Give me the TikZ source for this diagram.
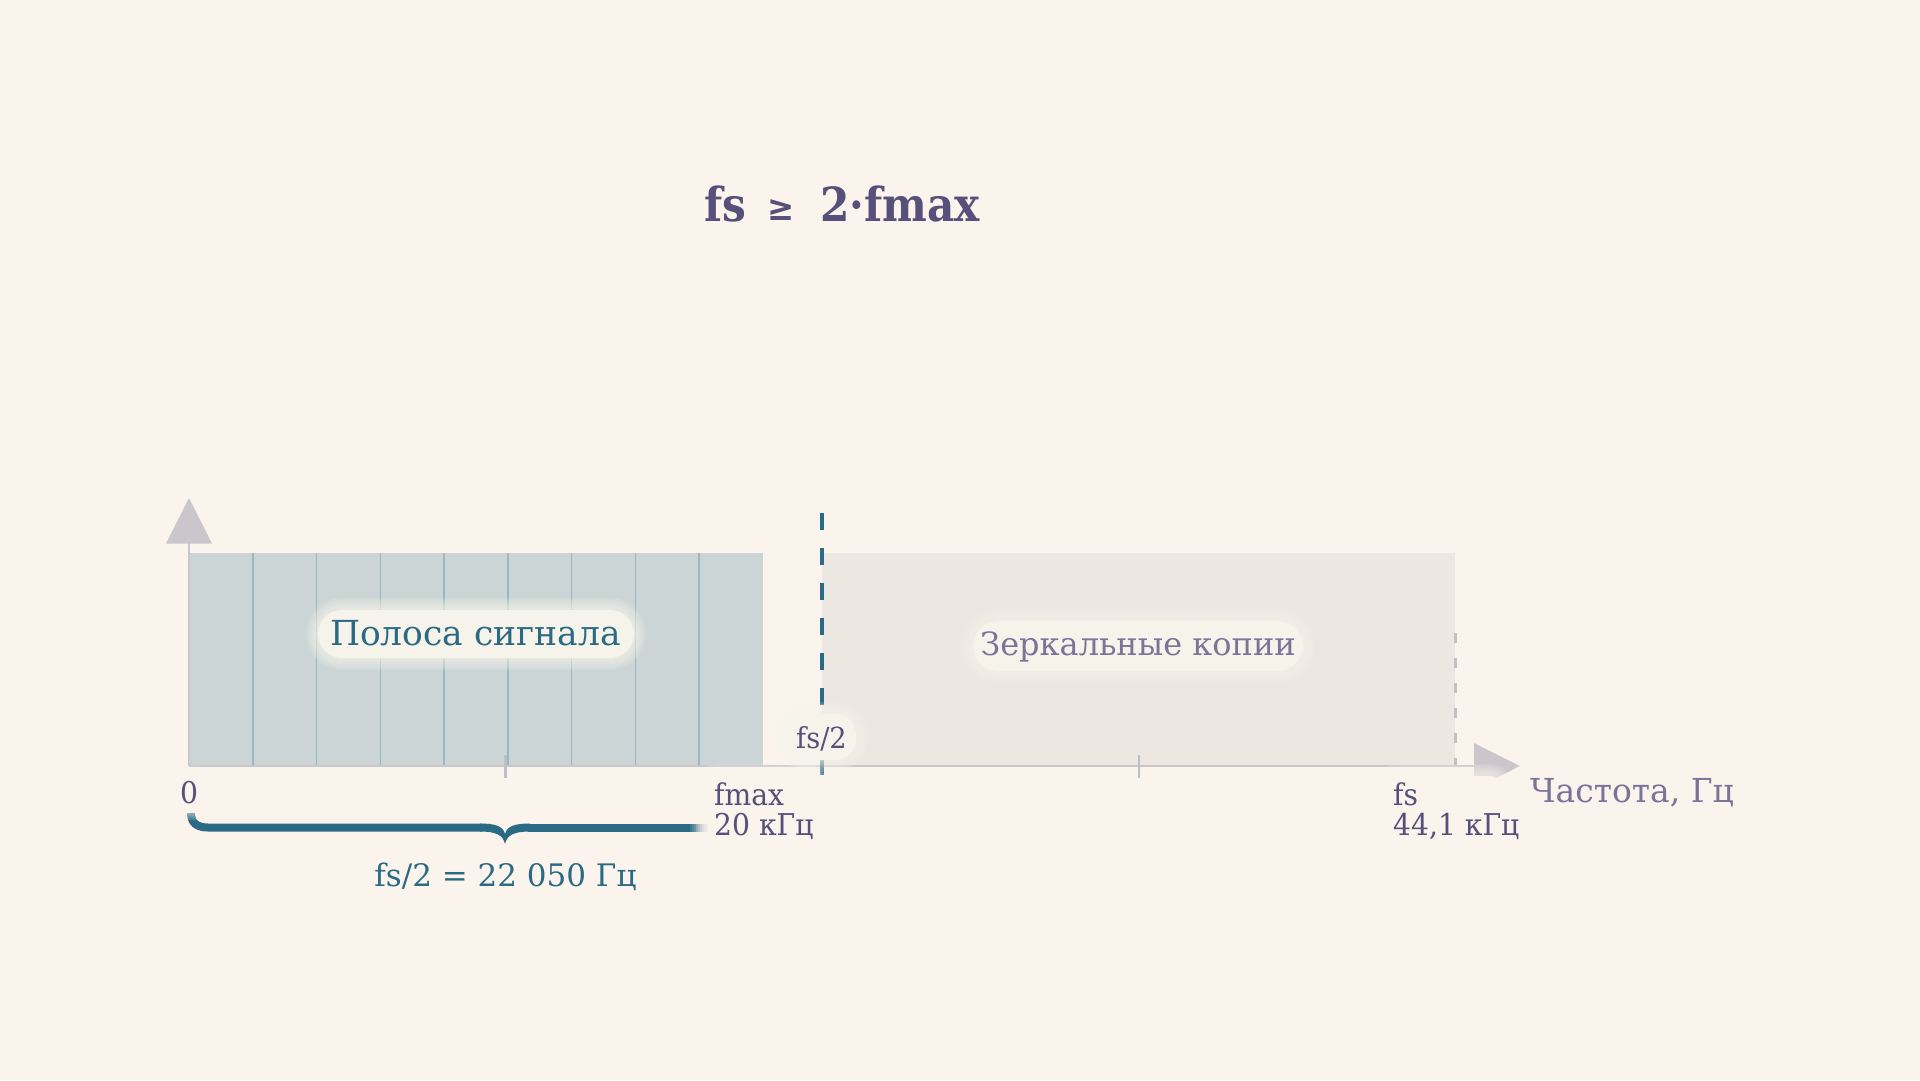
\documentclass[tikz,border=0pt]{standalone}
\usepackage{fontspec}
\setmainfont{DejaVu Serif}
\newfontfamily\titlefont{DejaVu Serif}[FakeStretch=0.9]
\newfontfamily\labelfont{DejaVu Serif}[FakeStretch=0.94]
\definecolor{bg}{HTML}{FAF4ED}
\definecolor{bandfill}{HTML}{CBD5D6}
\definecolor{gridc}{HTML}{9DB7C0}
\definecolor{copyfill}{HTML}{ECE7E1}
\definecolor{tealc}{HTML}{2B6A84}
\definecolor{purp}{HTML}{57507A}
\definecolor{lpurp}{HTML}{7A7499}
\definecolor{axisc}{HTML}{CBC6CB}
\definecolor{tickc}{HTML}{BEC0C8}
\definecolor{glowc}{HTML}{F6F3EA}
\newcommand\glowbox[6]{%
  \fill[#6,rounded corners=#5pt] (#1,#2) rectangle (#3,#4);
  \foreach \i [evaluate=\i as \r using {#5+2*\i}] in {1,...,6}{%
    \fill[#6,opacity=0.16,rounded corners=\r pt] ({#1-2*\i},{#2-2*\i}) rectangle ({#3+2*\i},{#4+2*\i});}}
\tikzset{
  lbl/.style={text=purp,font=\labelfont\fontsize{30}{34}\selectfont,inner sep=0pt},
  axisline/.style={draw=axisc,line width=2.5pt},
  tickline/.style={draw=tickc,line width=2.5pt},
}
\begin{document}
\begin{tikzpicture}[x=1pt,y=-1pt]
\useasboundingbox (0,0) rectangle (1920,1080);
\fill[bg] (0,0) rectangle (1920,1080);
% signal band
\fill[bandfill] (189,553) rectangle (763,766);
\foreach \k in {1,...,8}
  \draw[gridc,line width=1.5pt] ({189+63.78*\k},553) -- ({189+63.78*\k},766);
% image copies
\fill[copyfill] (821.6,553) rectangle (1455,766);
\draw[axisc!90!gray,line width=3pt,dash pattern=on 10pt off 15pt] (1455,633) -- (1455,766);
% axes
\coordinate (O) at (189,766);
\coordinate (xend) at (1474,766);
\coordinate (yend) at (189,543);
\draw[axisline] (O) -- (xend);
\draw[axisline] (O) -- (yend);
\fill[axisc] (166,543.5) -- (189,498) -- (212,543.5) -- cycle;
\fill[axisc] (1474,743) -- (1520,766) -- (1474,789) -- cycle;
% ticks
\draw[tickline] (505.7,755) -- (505.7,778);
\draw[tickline] (1138.8,755) -- (1138.8,778);
% nyquist line
\coordinate (nyqtop) at (821.6,513);
\coordinate (nyqbot) at (821.6,778);
\draw[tealc,line width=4pt,dash pattern=on 17pt off 18pt] (nyqtop) -- (nyqbot);
% brace
\draw[tealc,line width=8pt] (191,813) .. controls (191,822) and (196,827.5) .. (208,827.5) -- (482,827.5);
\draw[tealc,line width=8pt] (528,827.5) -- (688,827.5);
\fill[tealc] (480,831.5) .. controls (496,831.5) and (503,835) .. (505,844)
  .. controls (507,835) and (514,831.5) .. (530,831.5) -- (530,823.5)
  .. controls (515,823.5) and (507,826) .. (505,834)
  .. controls (503,826) and (495,823.5) .. (480,823.5) -- cycle;
\foreach \j in {0,...,9}
  \draw[tealc,line width=8pt,opacity={1-\j/10}] ({688+2*\j},827.5) -- ({690+2*\j},827.5);
% glows
\glowbox{318}{610}{634}{658}{24}{glowc}
\glowbox{973}{621}{1303}{671}{25}{glowc}
\glowbox{788}{714}{856}{760}{20}{glowc}
\glowbox{176}{778}{203}{808}{8}{bg}
\glowbox{708}{776}{818}{844}{10}{bg}
\glowbox{1388}{776}{1500}{844}{10}{bg}
\glowbox{1522}{770}{1745}{812}{10}{bg}
% texts
\node[text=purp,inner sep=0pt,anchor=base west,font=\titlefont\bfseries\fontsize{47}{56}\selectfont] (t1) at (704,221) {fs};
\node[text=purp,inner sep=0pt,anchor=base,font=\titlefont\bfseries\fontsize{36}{40}\selectfont] (t2) at (781,220) {≥};
\node[text=purp,inner sep=0pt,anchor=base west,font=\titlefont\bfseries\fontsize{47}{56}\selectfont] (t3) at (820,221) {2·fmax};
\node[text=tealc,inner sep=0pt,anchor=base,font=\fontsize{34.5}{40}\selectfont] (band) at (475.5,645.7) {Полоса сигнала};
\node[text=lpurp,inner sep=0pt,anchor=base,font=\fontsize{32}{40}\selectfont] (copies) at (1138,655) {Зеркальные копии};
\node[lbl,anchor=base west,font=\labelfont\fontsize{29}{34}\selectfont] (half) at (796,748) {fs/2};
\node[lbl,anchor=base] (zero) at (189,803) {0};
\node[lbl,anchor=base west] (fmax) at (714,805) {fmax};
\node[lbl,anchor=base west] (fmaxv) at (714,835) {20 кГц};
\node[lbl,anchor=base west] (fs) at (1393,805) {fs};
\node[lbl,anchor=base west] (fsv) at (1393,835) {44,1 кГц};
\node[text=lpurp,inner sep=0pt,anchor=base west,font=\fontsize{33}{40}\selectfont] (xlab) at (1530,802) {Частота, Гц};
\node[text=tealc,inner sep=0pt,anchor=base,font=\fontsize{31}{36}\selectfont] (bw) at (505.5,886.7) {fs/2 = 22 050 Гц};
\end{tikzpicture}
\end{document}
